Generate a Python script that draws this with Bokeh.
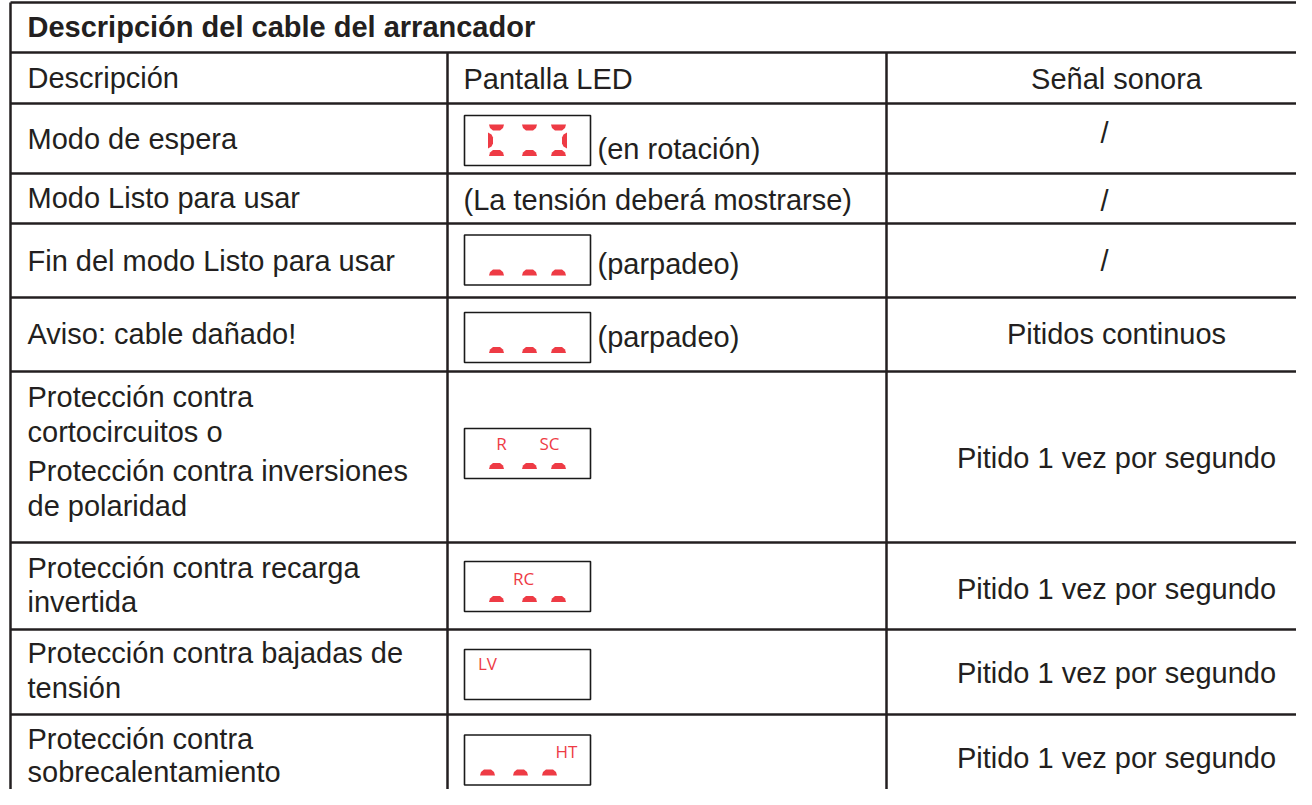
from bokeh.plotting import figure
from bokeh.models import Range1d
from bokeh.embed import file_html
from bokeh.resources import INLINE
from bokeh.core.properties import value

# ---------------- data ----------------
title = "Descripción del cable del arrancador"
headers = ["Descripción", "Pantalla LED", "Señal sonora"]
descriptions = [
    ["Modo de espera"],
    ["Modo Listo para usar"],
    ["Fin del modo Listo para usar"],
    ["Aviso: cable dañado!"],
    ["Protección contra", "cortocircuitos o", "Protección contra inversiones", "de polaridad"],
    ["Protección contra recarga", "invertida"],
    ["Protección contra bajadas de", "tensión"],
    ["Protección contra", "sobrecalentamiento"],
]
led_notes = ["(en rotación)", "(La tensión deberá mostrarse)", "(parpadeo)", "(parpadeo)", "", "", "", ""]
display_codes = [[], [], [], [], ["R", "SC"], ["RC"], ["LV"], ["HT"]]
display_modes = ["rotate", "none", "low", "low", "low", "low", "blank", "low"]
beeps = ["/", "/", "/", "Pitidos continuos", "Pitido 1 vez por segundo",
         "Pitido 1 vez por segundo", "Pitido 1 vez por segundo", "Pitido 1 vez por segundo"]

# ---------------- layout (reference pixel coordinates) ----------------
row_edges = [12, 62, 113, 183, 233, 307, 381, 552, 639, 724]
col_edges = [10, 447, 886]
desc_centers = [[148], [207], [270], [343], [406, 441, 480, 515], [577, 611], [662, 697], [748, 781]]
note_centers = [158, 209, 273, 346, 0, 0, 0, 0]
beep_centers = [142, 210, 270, 343, 467, 598, 682, 767]
box_centers = [150, None, 269.5, 347, 463, 596, 684, 769.5]
code_pos = [[], [], [], [], [(501, 453), (549, 453)], [(523, 588)], [(487, 673)], [(566, 761)]]
digit_x = [[496, 529, 558]] * 7 + [[487, 520, 549]]
BOX_X0, BOX_X1, BOX_H = 464, 590, 50
TEXT = "#231f20"
RED = "#ee3b45"
FONT = value("Liberation Sans")
FS = "29px"

W, H = 1296, 789
Y_OFF = 10
p = figure(width=W, height=H, output_backend="svg", toolbar_location=None,
           x_range=Range1d(0, W), y_range=Range1d(H + Y_OFF, Y_OFF),
           min_border=0, outline_line_color=None, background_fill_color="white")
p.axis.visible = False
p.xgrid.visible = False
p.ygrid.visible = False

# grid lines
n = len(row_edges)
p.segment(x0=[col_edges[0]] * n, x1=[1400] * n, y0=row_edges, y1=row_edges,
          line_color=TEXT, line_width=2.5)
p.segment(x0=[col_edges[0]], x1=[col_edges[0]], y0=[row_edges[0]], y1=[900],
          line_color=TEXT, line_width=2.5)
p.segment(x0=col_edges[1:3], x1=col_edges[1:3], y0=[row_edges[1]] * 2, y1=[900] * 2,
          line_color=TEXT, line_width=2.5)

# title
p.text(x=[27], y=[36], text=[title], text_font=FONT, text_font_size=FS,
       text_font_style="bold", text_color=TEXT, text_baseline="middle")
# headers
p.text(x=[27, 463], y=[87, 88], text=headers[:2], text_font=FONT, text_font_size=FS,
       text_color=TEXT, text_baseline="middle")
p.text(x=[1116], y=[88], text=[headers[2]], text_font=FONT, text_font_size=FS,
       text_color=TEXT, text_baseline="middle", text_align="center")

# description column
dx, dy, dt = [], [], []
for lines, cs in zip(descriptions, desc_centers):
    for t, c in zip(lines, cs):
        dx.append(27); dy.append(c); dt.append(t)
p.text(x=dx, y=dy, text=dt, text_font=FONT, text_font_size=FS, text_color=TEXT,
       text_baseline="middle")

# notes in LED column
nx, ny, nt = [], [], []
for i, (t, c) in enumerate(zip(led_notes, note_centers)):
    if t:
        nx.append(463 if box_centers[i] is None else 597); ny.append(c); nt.append(t)
p.text(x=nx, y=ny, text=nt, text_font=FONT, text_font_size=FS, text_color=TEXT,
       text_baseline="middle")

# beep column
bx = [1104 if b == "/" else 1116 for b in beeps]
p.text(x=bx, y=beep_centers, text=beeps, text_font=FONT, text_font_size=FS,
       text_color=TEXT, text_baseline="middle", text_align="center")

# LED boxes
qx0, qx1, qt, qb = [], [], [], []
for c in box_centers:
    if c is not None:
        qx0.append(BOX_X0); qx1.append(BOX_X1); qt.append(c - BOX_H / 2); qb.append(c + BOX_H / 2)
p.quad(left=qx0, right=qx1, top=qt, bottom=qb, fill_color=None, line_color="#1a1a1a", line_width=1.6)


def seg_bottom(cx, cy):
    return ([cx - 7.5, cx + 7.5, cx + 6.5, cx + 3.5, cx - 3.5, cx - 6.5],
            [cy + 3, cy + 3, cy - 0.5, cy - 3, cy - 3, cy - 0.5])


def seg_top(cx, cy):
    return ([cx - 7.5, cx + 7.5, cx + 6.5, cx + 3.5, cx - 3.5, cx - 6.5],
            [cy - 3, cy - 3, cy + 0.5, cy + 3, cy + 3, cy + 0.5])


def seg_vert(cx, cy, side):
    s = 1 if side == "left" else -1
    return ([cx - 2.5 * s, cx + 1.0 * s, cx + 2.5 * s, cx + 2.5 * s, cx + 1.0 * s, cx - 2.5 * s],
            [cy - 8, cy - 6, cy - 3, cy + 3, cy + 6, cy + 8])


px, py = [], []
for i, (c, mode) in enumerate(zip(box_centers, display_modes)):
    if c is None or mode in ("none", "blank"):
        continue
    xs = digit_x[i]
    yb = c + BOX_H / 2 - 12.5
    for x in xs:
        a, b = seg_bottom(x, yb); px.append(a); py.append(b)
    if mode == "rotate":
        yt = c - BOX_H / 2 + 12
        for x in xs:
            a, b = seg_top(x, yt); px.append(a); py.append(b)
        a, b = seg_vert(xs[0] - 6, c, "left"); px.append(a); py.append(b)
        a, b = seg_vert(xs[2] + 6, c, "right"); px.append(a); py.append(b)
p.patches(xs=px, ys=py, fill_color=RED, line_color=None)

# red codes
cx_, cy_, ct = [], [], []
for codes, pos in zip(display_codes, code_pos):
    for t, (x, y) in zip(codes, pos):
        cx_.append(x); cy_.append(y); ct.append(t)
p.text(x=cx_, y=cy_, text=ct, text_font=value("Open Sans"), text_font_size="17px",
       text_color=RED, text_align="center", text_baseline="middle")

open("out.html", "w").write(file_html(p, INLINE))
